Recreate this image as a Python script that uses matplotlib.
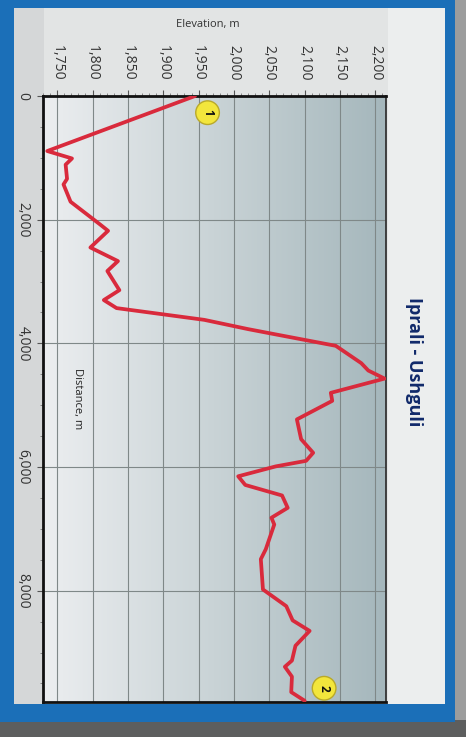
import numpy as np
import matplotlib
matplotlib.use("Agg")
from matplotlib import pyplot as plt
from matplotlib.patches import Rectangle
from matplotlib.colors import LinearSegmentedColormap
from matplotlib.ticker import MultipleLocator, FuncFormatter

# profile: distance along the trail (m) and elevation (m)
distance = [0, 890, 1010, 1110, 1340, 1430, 1710, 1930, 2080, 2180, 2450, 2670,
            2830, 3140, 3300, 3430, 3620, 3770, 3840, 4040, 4320, 4440, 4570,
            4800, 4930, 5230, 5550, 5770, 5900, 5990, 6150, 6290, 6460, 6660,
            6820, 6930, 7330, 7490, 7980, 8250, 8480, 8650, 8890, 9130, 9230,
            9390, 9640, 9780]
elevation = [1945, 1736, 1771, 1762, 1764, 1759, 1769, 1794, 1811, 1822, 1797,
             1836, 1821, 1838, 1816, 1834, 1958, 2020, 2052, 2144, 2180, 2190,
             2213, 2137, 2139, 2089, 2095, 2112, 2102, 2059, 2006, 2016, 2068,
             2076, 2053, 2057, 2045, 2038, 2041, 2074, 2083, 2107, 2087, 2082,
             2072, 2082, 2081, 2100]
elev_ticks = [1750, 1800, 1850, 1900, 1950, 2000, 2050, 2100, 2150, 2200]
dist_ticks = [0, 2000, 4000, 6000, 8000]
title = "Iprali - Ushguli"

plt.rcParams['font.family'] = ['Open Sans', 'DejaVu Sans']

W, H = 466, 737
fig = plt.figure(figsize=(W / 100, H / 100), dpi=100)
fig.patch.set_facecolor('#e2e4e4')


def px_rect(x0, y0, x1, y1, color):
    # rectangle given in image pixels (y from the top), drawn under the axes
    fig.patches.append(Rectangle((x0 / W, 1 - y1 / H), (x1 - x0) / W, (y1 - y0) / H,
                                 transform=fig.transFigure, facecolor=color,
                                 edgecolor='none', zorder=-5))


# photo frame: left grey strip, blue border, shadow
px_rect(14, 8, 44, 705, '#d5d7d8')
px_rect(388, 8, 445, 705, '#eceeee')
px_rect(455, 0, 466, 737, '#9c9d9d')
px_rect(0, 720, 466, 737, '#5d5e5e')
px_rect(0, 0, 14, 722, '#1b6fb8')
px_rect(0, 0, 455, 8, '#1b6fb8')
px_rect(445, 0, 455, 722, '#1b6fb8')
px_rect(0, 704, 455, 722, '#1b6fb8')

ax = fig.add_axes([43 / W, 1 - 702 / H, (386 - 43) / W, (702 - 96) / H])
ax.set_zorder(1)

# light-to-grey-blue background across the plot
cmap = LinearSegmentedColormap.from_list('bg', ['#eceef0', '#c9d3d6', '#a5b7bc'])
ax.imshow(np.linspace(0, 1, 256).reshape(1, -1), cmap=cmap, aspect='auto',
          extent=(0, 1, 0, 1), transform=ax.transAxes, zorder=0)

ax.plot(elevation, distance, color='#d92a3c', lw=2.7, zorder=3,
        solid_capstyle='round', solid_joinstyle='round')

ax.set_xlim(1730, 2215)
ax.set_ylim(9800, 0)

ax.set_xticks(elev_ticks)
ax.set_yticks(dist_ticks)
ax.xaxis.set_minor_locator(MultipleLocator(10))
ax.yaxis.set_minor_locator(MultipleLocator(500))
fmt = FuncFormatter(lambda v, p: f"{int(v):,}")
ax.xaxis.set_major_formatter(fmt)
ax.yaxis.set_major_formatter(fmt)
ax.xaxis.tick_top()

ax.tick_params(axis='x', which='major', labelsize=10, labelcolor='#333333',
               rotation=-90, length=4, pad=7, color='#555555')
ax.tick_params(axis='x', which='minor', length=2, color='#777777')
ax.tick_params(axis='y', which='major', labelsize=10, labelcolor='#333333',
               rotation=-90, length=4, pad=5, color='#555555')
ax.tick_params(axis='y', which='minor', length=2, color='#777777')
for lab in ax.get_yticklabels():
    lab.set_va('center')

ax.grid(True, which='major', color='#7f8888', lw=0.8, zorder=1)

for side in ['top', 'left', 'bottom']:
    ax.spines[side].set_linewidth(2.0)
    ax.spines[side].set_color('#111111')
ax.spines['right'].set_linewidth(1.3)
ax.spines['right'].set_color('#333333')

fig.text(208 / W, 1 - 25 / H, "Elevation, m", ha='center', va='center',
         fontsize=8, color='#333333')
ax.text(0.10, 0.50, "Distance, m", transform=ax.transAxes, rotation=-90,
        ha='center', va='center', fontsize=8, color='#222222')
fig.text(414 / W, 1 - 362 / H, title, rotation=-90, ha='center', va='center',
         fontsize=13, fontweight='bold', color='#10296a')

# start / end markers
circ = dict(boxstyle='circle,pad=0.45', fc='#f3e63c', ec='#b9a92a', lw=1.0)
ax.annotate("1", xy=(elevation[0], distance[0]), xytext=(9, -12),
            textcoords='offset points', rotation=-90, ha='center', va='center',
            fontsize=8.5, fontweight='bold', color='#111111', bbox=circ,
            zorder=5, annotation_clip=False)
ax.annotate("2", xy=(elevation[-1], distance[-1]), xytext=(14, 9),
            textcoords='offset points', rotation=-90, ha='center', va='center',
            fontsize=8.5, fontweight='bold', color='#111111', bbox=circ,
            zorder=5, annotation_clip=False)

fig.savefig('out.png', dpi=100, facecolor=fig.get_facecolor())
